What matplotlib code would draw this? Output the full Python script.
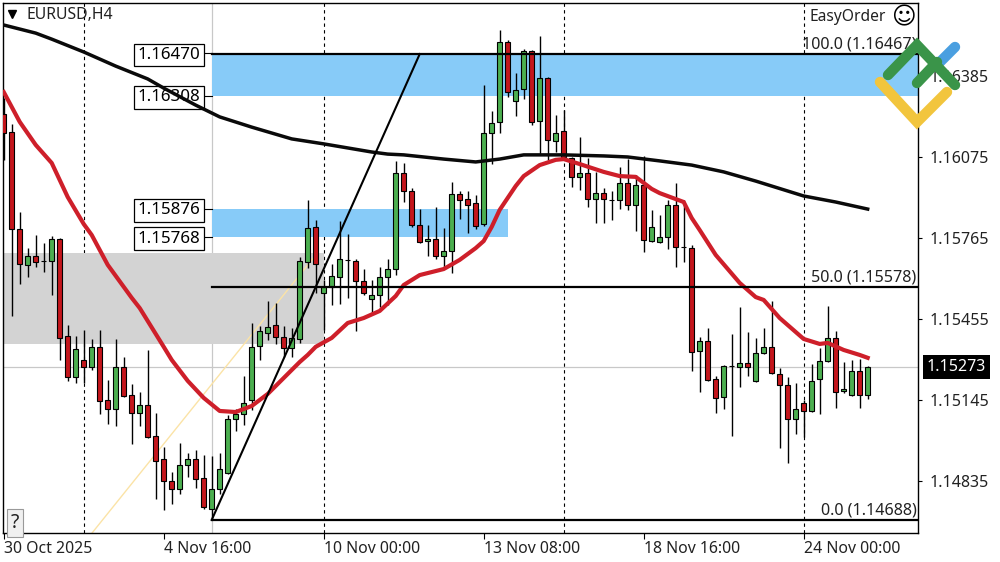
import matplotlib
matplotlib.use("Agg")
import matplotlib.pyplot as plt
from matplotlib.lines import Line2D
from matplotlib.patches import Rectangle

W, H = 1000, 562

plt.rcParams["font.family"] = ["Noto Sans", "DejaVu Sans"]

# candles, one per H4 bar
opens = [
    1.16238, 1.16169, 1.15799, 1.15662, 1.15696, 1.15678, 1.15677, 1.15761, 1.15391, 1.15234,
    1.15299, 1.15272, 1.15349, 1.15146, 1.15112, 1.15272, 1.15165, 1.15097, 1.15127, 1.15009,
    1.14921, 1.14837, 1.14806, 1.14898, 1.14921, 1.14848, 1.14730, 1.14806, 1.14867, 1.15074,
    1.15093, 1.15146, 1.15352, 1.15402, 1.15433, 1.15387, 1.15345, 1.15379, 1.15673, 1.15807,
    1.15555, 1.15578, 1.15616, 1.15682, 1.15677, 1.15600, 1.15532, 1.15547, 1.15616, 1.15646,
    1.16013, 1.15944, 1.15814, 1.15753, 1.15761, 1.15696, 1.15715, 1.15933, 1.15914, 1.15898,
    1.15818, 1.16166, 1.16208, 1.16513, 1.16288, 1.16334, 1.16479, 1.16211, 1.16376, 1.16135,
    1.16173, 1.16070, 1.15998, 1.16013, 1.15914, 1.15936, 1.15911, 1.15910, 1.15975, 1.15891,
    1.15967, 1.15753, 1.15749, 1.15768, 1.15891, 1.15731, 1.15726, 1.15333, 1.15371, 1.15226,
    1.15158, 1.15277, 1.15272, 1.15287, 1.15219, 1.15326, 1.15349, 1.15245, 1.15203, 1.15074,
    1.15135, 1.15104, 1.15226, 1.15295, 1.15383, 1.15181, 1.15165, 1.15257, 1.15165,
]
closes = [
    1.16166, 1.15799, 1.15665, 1.15696, 1.15673, 1.15676, 1.15761, 1.15383, 1.15234, 1.15341,
    1.15272, 1.15349, 1.15142, 1.15112, 1.15272, 1.15161, 1.15097, 1.15127, 1.15005, 1.14913,
    1.14837, 1.14806, 1.14898, 1.14921, 1.14845, 1.14738, 1.14806, 1.14883, 1.15074, 1.15093,
    1.15135, 1.15349, 1.15410, 1.15425, 1.15387, 1.15345, 1.15383, 1.15677, 1.15803, 1.15665,
    1.15578, 1.15620, 1.15684, 1.15680, 1.15600, 1.15555, 1.15547, 1.15616, 1.15646, 1.16013,
    1.15944, 1.15814, 1.15749, 1.15761, 1.15696, 1.15715, 1.15933, 1.15910, 1.15891, 1.15810,
    1.16166, 1.16204, 1.16513, 1.16322, 1.16330, 1.16479, 1.16208, 1.16376, 1.16139, 1.16166,
    1.16074, 1.15998, 1.16013, 1.15914, 1.15936, 1.15914, 1.15909, 1.15975, 1.15891, 1.15967,
    1.15757, 1.15807, 1.15768, 1.15891, 1.15730, 1.15729, 1.15329, 1.15371, 1.15223, 1.15154,
    1.15276, 1.15275, 1.15287, 1.15272, 1.15326, 1.15349, 1.15249, 1.15203, 1.15074, 1.15112,
    1.15104, 1.15219, 1.15295, 1.15383, 1.15177, 1.15188, 1.15257, 1.15165, 1.15273,
]
highs = [
    1.16299, 1.16200, 1.15864, 1.15726, 1.15776, 1.15746, 1.15772, 1.15765, 1.15433, 1.15391,
    1.15413, 1.15379, 1.15413, 1.15223, 1.15379, 1.15310, 1.15207, 1.15177, 1.15337, 1.15097,
    1.14967, 1.14871, 1.14982, 1.14944, 1.14955, 1.14936, 1.14932, 1.14944, 1.15089, 1.15112,
    1.15238, 1.15440, 1.15429, 1.15524, 1.15517, 1.15429, 1.15421, 1.15692, 1.15910, 1.15833,
    1.15604, 1.15665, 1.15830, 1.15780, 1.15684, 1.15646, 1.15604, 1.15654, 1.15684, 1.16059,
    1.16051, 1.15956, 1.15875, 1.15814, 1.15883, 1.15803, 1.15978, 1.15944, 1.15944, 1.15929,
    1.16349, 1.16250, 1.16559, 1.16520, 1.16395, 1.16486, 1.16482, 1.16536, 1.16379, 1.16234,
    1.16253, 1.16074, 1.16150, 1.16070, 1.16017, 1.15956, 1.15944, 1.16036, 1.16066, 1.16005,
    1.16078, 1.15872, 1.15852, 1.15910, 1.15975, 1.15910, 1.15738, 1.15387, 1.15421, 1.15238,
    1.15280, 1.15398, 1.15501, 1.15406, 1.15383, 1.15421, 1.15524, 1.15268, 1.15234, 1.15211,
    1.15146, 1.15284, 1.15345, 1.15505, 1.15410, 1.15291, 1.15299, 1.15303, 1.15274,
]
lows = [
    1.16063, 1.15467, 1.15589, 1.15616, 1.15654, 1.15635, 1.15547, 1.15299, 1.15219, 1.15211,
    1.15211, 1.15261, 1.15093, 1.15055, 1.15047, 1.15158, 1.14978, 1.15047, 1.15001, 1.14768,
    1.14726, 1.14749, 1.14787, 1.14852, 1.14810, 1.14730, 1.14696, 1.14787, 1.14865, 1.15028,
    1.15051, 1.15108, 1.15299, 1.15375, 1.15360, 1.15310, 1.15310, 1.15364, 1.15650, 1.15555,
    1.15413, 1.15509, 1.15513, 1.15536, 1.15410, 1.15547, 1.15478, 1.15501, 1.15509, 1.15623,
    1.15902, 1.15807, 1.15746, 1.15696, 1.15684, 1.15650, 1.15631, 1.15837, 1.15784, 1.15799,
    1.15810, 1.16047, 1.16166, 1.16303, 1.16230, 1.16295, 1.16196, 1.16082, 1.16063, 1.16093,
    1.16070, 1.15959, 1.15948, 1.15883, 1.15822, 1.15822, 1.15833, 1.15875, 1.15872, 1.15791,
    1.15711, 1.15749, 1.15746, 1.15723, 1.15654, 1.15673, 1.15257, 1.15177, 1.15219, 1.15097,
    1.15112, 1.15009, 1.15196, 1.15238, 1.15215, 1.15320, 1.15245, 1.14963, 1.14906, 1.15016,
    1.15005, 1.15100, 1.15093, 1.15290, 1.15116, 1.15173, 1.15161, 1.15116, 1.15150,
]

# moving averages, read at these bars
red_ma_bars = [0, 2, 4, 6, 8, 10, 11, 13, 14, 16, 17, 20, 21, 23, 25, 27, 29, 31, 33, 35, 37,
               38, 39, 41, 43, 45, 47, 49, 50, 52, 55, 57, 59, 60, 61, 62, 64, 65, 67, 69, 70,
               72, 75, 77, 79, 81, 82, 85, 86, 87, 89, 92, 94, 95, 97, 100, 102, 103, 105, 107, 108]
red_ma = [1.16322, 1.16208, 1.16120, 1.16051, 1.15921, 1.15818, 1.15776, 1.15662, 1.15620,
          1.15536, 1.15497, 1.15349, 1.15299, 1.15219, 1.15154, 1.15104, 1.15100, 1.15123,
          1.15169, 1.15230, 1.15291, 1.15318, 1.15349, 1.15383, 1.15440, 1.15459, 1.15486,
          1.15543, 1.15585, 1.15623, 1.15646, 1.15681, 1.15726, 1.15753, 1.15807, 1.15872,
          1.15963, 1.16001, 1.16043, 1.16063, 1.16066, 1.16047, 1.16017, 1.16001, 1.15998,
          1.15952, 1.15936, 1.15902, 1.15841, 1.15795, 1.15700, 1.15593, 1.15539, 1.15528,
          1.15459, 1.15379, 1.15360, 1.15364, 1.15337, 1.15318, 1.15307]
black_ma_bars = [0, 4, 6, 10, 14, 18, 20, 24, 27, 31, 36, 40, 46, 48, 50, 55, 59, 62, 65, 70,
                 75, 78, 82, 86, 90, 94, 98, 100, 104, 108]
black_ma = [1.16578, 1.16547, 1.16524, 1.16475, 1.16421, 1.16372, 1.16337, 1.16272, 1.16227,
            1.16188, 1.16143, 1.16124, 1.16093, 1.16085, 1.16082, 1.16066, 1.16055, 1.16066,
            1.16082, 1.16082, 1.16078, 1.16074, 1.16059, 1.16043, 1.16017, 1.15982, 1.15944,
            1.15925, 1.15902, 1.15875]

# levels and zones
fib_levels = [1.16467, 1.15578, 1.14688]
fib_labels = ["100.0 (1.16467)", "50.0 (1.15578)", "0.0 (1.14688)"]
zone_prices = [1.16470, 1.16308, 1.15876, 1.15768]
zone_labels = ["1.16470", "1.16308", "1.15876", "1.15768"]
grey_zone = [1.15360, 1.15707]
last_price = 1.15273

price_ticks = [1.16385, 1.16075, 1.15765, 1.15455, 1.15145, 1.14835]
time_ticks = [0, 20, 40, 60, 80, 100]
time_labels = ["30 Oct 2025", "4 Nov 16:00", "10 Nov 00:00", "13 Nov 08:00", "18 Nov 16:00", "24 Nov 00:00"]
dashed_bars = [10, 40, 70, 100]

GREEN = "#4CAF50"
RED = "#C4161C"
MA_RED = "#CE1F2A"
BLUE_ZONE = "#87CBF8"
GREY_ZONE = "#D3D3D3"
LINE_GREY = "#C8C8C8"
TEXT = "#222222"

fig = plt.figure(figsize=(W / 100, H / 100), dpi=100)
ax = fig.add_axes([3 / W, 1 - 533 / H, 915 / W, 530 / H])
ax.set_xlim(-0.09, 114.29)
ax.set_ylim(1.14638, 1.16662)

# grid under the zones
for b in dashed_bars:
    ax.axvline(b, color="black", lw=0.8, ls=(0, (3, 3)), zorder=1)
ax.axvline(26, color=LINE_GREY, lw=0.9, zorder=1)
ax.axhline(last_price, color=LINE_GREY, lw=0.9, zorder=1)

ax.add_patch(Rectangle((26, zone_prices[1]), 90, zone_prices[0] - zone_prices[1], color=BLUE_ZONE, lw=0, zorder=2))
ax.add_patch(Rectangle((26, zone_prices[3]), 37, zone_prices[2] - zone_prices[3], color=BLUE_ZONE, lw=0, zorder=2))
ax.add_patch(Rectangle((-1, grey_zone[0]), 41, grey_zone[1] - grey_zone[0], color=GREY_ZONE, lw=0, zorder=2))

# yellow trend line
ax.plot([11.04, 39.2], [1.14638, 1.15707], color="#FBE3A6", lw=1.0, zorder=2.5)

# candles
bars = list(range(len(opens)))
ax.vlines(bars, lows, highs, color="black", lw=1.0, zorder=3)
colors = [GREEN if c >= o else RED for o, c in zip(opens, closes)]
ax.bar(bars, [abs(c - o) for o, c in zip(opens, closes)],
       bottom=[min(o, c) for o, c in zip(opens, closes)],
       width=0.6, color=colors, edgecolor="black", linewidth=0.8, zorder=3.2)

# zone price boxes sit under the averages
for price, label in zip(zone_prices, zone_labels):
    ax.plot([24.8, 26], [price, price], color="black", lw=0.8, zorder=3.4)
    ax.annotate(label, (24.6, price), xytext=(0, -1.2), textcoords="offset points",
                ha="right", va="center", fontsize=12.2, color="black", zorder=3.5,
                bbox=dict(boxstyle="square,pad=0.2", fc="white", ec="black", lw=0.9))

ax.plot(black_ma_bars, black_ma, color="#0A0A0A", lw=2.5, zorder=4)
ax.plot(red_ma_bars, red_ma, color=MA_RED, lw=3.0, zorder=4.2)

# fibo levels
for level, label in zip(fib_levels, fib_labels):
    ax.plot([26, 116], [level, level], color="black", lw=1.6, zorder=4.5)
    ax.annotate(label, (114.1, level), xytext=(0, 1), textcoords="offset points",
                ha="right", va="bottom", fontsize=11.6, color=TEXT, zorder=5)
ax.plot([26, 52], [fib_levels[2], fib_levels[0]], color="black", lw=1.5, zorder=4.5)

# axes furniture
ax.yaxis.tick_right()
ax.set_yticks(price_ticks)
ax.set_yticklabels([f"{p:.5f}" for p in price_ticks], fontsize=11.5, color=TEXT)
ax.set_xticks(time_ticks)
ax.set_xticklabels(time_labels, ha="left", fontsize=11.4, color=TEXT)
ax.tick_params(axis="x", length=4, width=0.8, pad=2)
ax.tick_params(axis="y", length=3, width=0.8, pad=5)
for spine in ax.spines.values():
    spine.set_linewidth(1.0)

ax.text(1.0098, last_price, f"{last_price:.5f}", transform=ax.get_yaxis_transform(),
        ha="left", va="center", fontsize=11.5, color="white", zorder=7,
        bbox=dict(boxstyle="square,pad=0.25", fc="black", ec="black", lw=0))

fig.text(26 / W, 1 - 15 / H, "EURUSD,H4", ha="left", va="center", fontsize=11.4, color=TEXT)
fig.add_artist(Line2D([12 / W], [1 - 14 / H], marker="v", ms=6, color="black", ls="none"))
fig.text(886 / W, 1 - 17 / H, "EasyOrder", ha="right", va="center", fontsize=11.2, color=TEXT)
fig.text(903 / W, 1 - 17 / H, "\u263A", ha="center", va="center", fontsize=17, color="black", family="DejaVu Sans")
fig.text(15 / W, 1 - 523 / H, "?", ha="center", va="center", fontsize=14, color=TEXT,
         bbox=dict(boxstyle="square,pad=0.2", fc="#F0F0F0", ec="#999999", lw=0.8))


# logo in the upper right corner
def logo_stroke(xs, ys, color):
    fig.add_artist(Line2D([x / W for x in xs], [1 - y / H for y in ys], color=color, lw=7.5,
                          solid_capstyle="round", solid_joinstyle="miter", zorder=20))


logo_stroke([955, 938], [47, 64], "#4A9FE0")
logo_stroke([917, 937], [83, 62], "#3A9449")
logo_stroke([888, 917, 955], [75, 45, 85], "#3A9449")
logo_stroke([880, 917, 947], [82, 122, 92], "#F2C53D")

fig.savefig("out.png", dpi=100)
plt.close(fig)
